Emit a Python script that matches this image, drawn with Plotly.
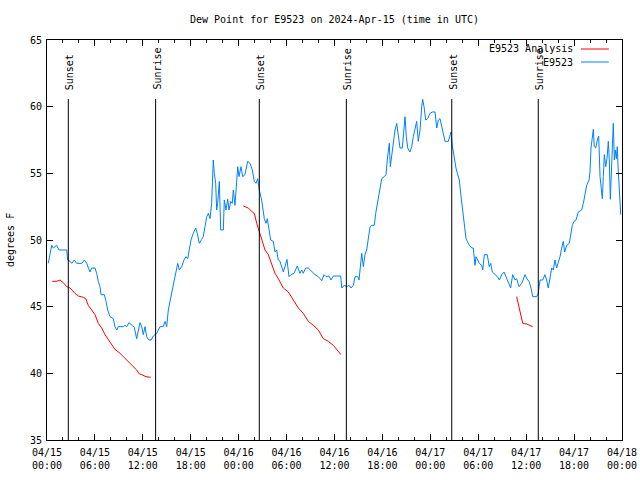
import pandas as pd
import plotly.graph_objects as go

BASE = pd.Timestamp("2024-04-15 00:00")

# Observed dew point (E9523): hours since 2024-04-15 00:00 UTC, degrees F
obs_hours = [0.16, 0.38, 0.59, 0.79, 1.21, 1.50, 2.47, 2.59, 2.88, 3.09, 3.42, 3.72, 4.35, 4.67, 4.97,
             5.38, 5.60, 6.01, 6.22, 6.42, 6.64, 6.76, 7.18, 7.39, 7.60, 7.89, 8.30, 8.51, 8.73, 8.93,
             9.55, 9.77, 9.98, 10.27, 10.61, 10.93, 11.23, 11.36, 11.65, 11.86, 12.06, 12.27, 12.48,
             12.77, 13.02, 13.31, 13.74, 14.15, 14.56, 14.78, 14.99, 15.19, 15.40,
             15.53, 15.69, 15.94, 16.15, 16.37, 16.57, 16.87, 17.15, 17.41, 17.62, 17.82, 18.03, 18.32,
             18.62, 18.82, 19.07, 19.37, 19.57, 19.78, 20.00, 20.20, 20.41, 20.62, 20.82, 20.95, 21.12,
             21.25, 21.37, 21.58, 21.75, 22.08, 22.20, 22.41, 22.63, 22.79, 23.00, 23.20, 23.33, 23.54,
             23.75, 23.88, 24.04, 24.29, 24.51, 24.79, 25.13, 25.42, 25.71, 25.96, 26.17, 26.38, 26.58,
             26.88, 27.21, 27.42, 27.59, 27.80, 28.01, 28.33, 28.55, 28.76, 28.96, 29.18, 29.39, 29.59,
             29.80, 30.05, 30.30, 30.55, 30.93, 31.34, 31.68, 31.89, 32.09, 32.39, 32.72, 33.15, 33.56,
             33.97, 34.40, 34.69, 34.94, 35.31, 35.56, 35.85, 36.78, 36.90, 37.23, 37.53, 37.82, 38.07,
             38.35, 38.57, 38.91, 39.07, 39.28, 39.41, 39.61, 39.82, 40.03, 40.23, 40.45, 40.66, 40.98,
             41.16, 41.36, 41.57, 41.70, 41.91, 42.24, 42.45, 42.61, 42.74, 42.86, 42.99, 43.16, 43.36,
             43.58, 43.79, 43.99, 44.20, 44.49, 44.67, 44.83, 44.99, 45.17, 45.45, 45.67, 45.87, 46.08,
             46.29, 46.49, 46.71, 46.92, 47.04, 47.21, 47.42, 47.67, 47.96, 48.25, 48.59, 48.80, 49.00,
             49.21, 49.42, 49.62, 49.84, 50.25, 50.46, 50.59, 50.75, 51.00, 51.09, 51.21, 51.38, 51.63,
             51.80, 51.93, 52.05, 52.22, 52.34, 52.47, 52.63, 52.88, 53.18, 53.38, 53.59, 53.72, 53.93,
             54.13, 54.43, 54.56, 54.76, 55.13, 55.38, 55.56, 55.76, 56.10, 56.39, 56.64, 56.94, 57.23,
             57.48, 57.76, 58.06, 58.31, 58.60, 58.81, 59.10, 59.44, 59.64, 59.86, 60.07, 60.36, 60.61,
             60.82, 61.32, 61.52, 61.73, 62.07, 62.36, 62.57, 62.77, 62.99, 63.20, 63.40, 63.61, 63.82,
             64.03, 64.24, 64.45, 64.65, 64.82, 65.08, 65.40, 65.58, 65.78, 65.99, 66.24, 66.53, 66.95,
             67.16, 67.37, 67.58, 67.87, 67.99, 68.12, 68.28, 68.41, 68.53, 68.71, 68.91, 69.08, 69.25,
             69.41, 69.54, 69.66, 69.79, 69.96, 70.12, 70.29, 70.41, 70.54, 70.66, 70.84, 70.91, 71.04,
             71.16, 71.29, 71.41, 71.50, 71.63, 71.75, 71.84]
obs_values = [48.25, 49.0, 49.6, 49.4, 49.6, 49.25, 49.25, 48.5, 48.4, 48.25, 48.5, 48.25, 48.25, 48.5, 48.25,
              47.6, 47.9, 47.9, 47.5, 46.9, 46.5, 45.9, 45.9, 45.4, 44.75, 44.25, 44.1, 43.5, 43.25, 43.5,
              43.5, 43.6, 43.5, 43.8, 43.6, 43.45, 42.6, 43.0, 43.8, 43.5, 42.9, 43.5, 42.75,
              42.5, 42.5, 42.8, 43.0, 43.5, 43.5, 43.9, 43.5, 44.75, 45.4,
              46.0, 46.4, 47.0, 47.6, 48.25, 47.75, 48.0, 48.5, 48.75, 48.6, 49.4, 50.0, 50.5,
              50.9, 50.5, 49.75, 50.05, 50.25, 51.0, 51.75, 52.0, 51.6, 52.75, 56.0, 55.0, 54.25,
              52.25, 52.75, 54.4, 50.75, 50.75, 53.0, 52.25, 53.05, 52.25, 52.9, 52.75, 53.75, 52.6,
              54.75, 55.5, 54.75, 55.5, 54.75, 54.9, 55.9, 55.75, 55.25, 54.4, 54.25, 54.6, 53.75,
              53.0, 51.6, 51.25, 51.6, 50.75, 50.0, 49.9, 49.1, 49.25, 48.5, 48.4, 48.0, 47.6,
              48.0, 48.55, 47.25, 47.4, 47.5, 48.05, 47.5, 47.75, 47.5, 47.9, 47.9, 47.6, 47.4,
              47.25, 46.95, 47.4, 47.25, 47.3, 47.0, 47.3, 47.3, 46.4, 46.6, 46.5, 46.6, 46.4,
              46.6, 47.25, 47.25, 47.0, 48.5, 49.0, 48.0, 48.9, 49.25, 50.0, 51.0, 51.1, 51.1,
              52.0, 52.75, 53.25, 54.0, 54.6, 54.75, 54.9, 56.0, 56.75, 57.25, 55.5, 56.25, 57.1,
              58.25, 58.75, 57.75, 56.9, 56.9, 58.5, 59.25, 57.75, 56.9, 56.6, 57.0, 57.75, 58.4,
              58.9, 57.4, 58.25, 60.0, 60.55, 60.0, 59.0, 59.1, 59.5, 59.6, 59.6, 58.4, 59.0,
              59.1, 58.5, 58.0, 57.4, 57.4, 57.75, 58.1, 57.1, 56.1, 55.6, 55.4, 55.0, 54.5,
              53.5, 52.9, 52.1, 51.4, 50.75, 50.1, 49.9, 49.6, 49.4, 49.4, 48.1, 48.75, 48.5,
              48.25, 48.1, 47.75, 48.9, 48.9, 48.0, 48.25, 47.6, 47.4, 47.25, 47.0, 47.4, 47.6,
              47.25, 46.75, 46.4, 47.4, 47.0, 47.1, 46.5, 46.75, 47.0, 47.4, 47.1, 46.9, 46.4,
              45.75, 45.75, 46.0, 47.0, 47.0, 47.4, 47.0, 46.4, 47.25, 47.9, 47.75, 48.5, 47.9,
              48.25, 48.75, 49.4, 49.9, 49.1, 49.6, 49.75, 50.4, 51.1, 51.4, 51.5, 52.1, 52.25,
              52.75, 53.4, 54.1, 54.5, 55.1, 56.9, 57.8, 58.3, 57.0, 56.9, 57.5, 57.8, 54.75,
              54.0, 53.1, 54.75, 56.4, 55.5, 56.1, 57.4, 56.0, 53.05, 55.5, 57.8, 58.75, 56.0,
              56.75, 56.1, 57.0, 55.6, 54.0, 53.0, 51.9]

# Analysis dew point (three separate runs, None = gap)
ana_hours = [0.66, 1.21, 1.63, 2.04, 2.47, 2.88, 3.51, 3.92, 4.55, 4.85, 5.17, 5.60, 6.01, 6.42, 6.85,
             7.26, 7.68, 8.10, 8.51, 9.14, 9.77, 10.18, 10.81, 11.23, 11.56, 11.86, 12.40, 12.99, None,
             24.58, 25.21, 25.71, 25.96, 26.26, 26.58, 26.88, 27.30, 27.71, 28.14, 28.55, 28.96, 29.59,
             30.22, 30.84, 31.47, 32.09, 32.72, 33.35, 33.97, 34.60, 35.22, 35.85, 36.28, 36.81, None,
             58.81, 59.23, 59.57, 60.07, 60.48, 60.82]
ana_values = [46.9, 46.9, 47.0, 46.8, 46.5, 46.4, 46.0, 45.8, 45.7, 45.6, 45.1, 44.75, 44.4, 43.75, 43.4,
              42.9, 42.5, 42.1, 41.8, 41.5, 41.1, 40.9, 40.5, 40.25, 39.95, 39.9, 39.75, 39.7, None,
              52.55, 52.4, 52.1, 52.0, 51.25, 50.6, 50.0, 49.25, 48.9, 48.25, 47.5, 47.1, 46.4,
              46.1, 45.5, 44.9, 44.5, 43.9, 43.6, 43.25, 42.6, 42.4, 42.1, 41.75, 41.4, None,
              45.75, 44.6, 43.75, 43.7, 43.6, 43.5]

sun_events = ["Sunset", "Sunrise", "Sunset", "Sunrise", "Sunset", "Sunrise"]
sun_times = ["2024-04-15 02:40", "2024-04-15 13:36", "2024-04-16 02:35",
             "2024-04-16 13:29", "2024-04-17 02:41", "2024-04-17 13:31"]

tick_times = ["2024-04-15 00:00", "2024-04-15 06:00", "2024-04-15 12:00", "2024-04-15 18:00",
              "2024-04-16 00:00", "2024-04-16 06:00", "2024-04-16 12:00", "2024-04-16 18:00",
              "2024-04-17 00:00", "2024-04-17 06:00", "2024-04-17 12:00", "2024-04-17 18:00",
              "2024-04-18 00:00"]
tick_labels = ["04/15<br>00:00", "04/15<br>06:00", "04/15<br>12:00", "04/15<br>18:00",
               "04/16<br>00:00", "04/16<br>06:00", "04/16<br>12:00", "04/16<br>18:00",
               "04/17<br>00:00", "04/17<br>06:00", "04/17<br>12:00", "04/17<br>18:00",
               "04/18<br>00:00"]
y_ticks = [35, 40, 45, 50, 55, 60, 65]


def to_time(hours):
    return [None if h is None else BASE + pd.Timedelta(hours=h) for h in hours]


FONT = "DejaVu Sans Mono"
RED = "#ff0000"
BLUE = "#0080ff"
W, H = 640, 480

fig = go.Figure()
fig.add_trace(go.Scatter(x=to_time(ana_hours), y=ana_values, mode="lines",
                         line=dict(color=RED, width=1), name="E9523 Analysis",
                         connectgaps=False, showlegend=False))
fig.add_trace(go.Scatter(x=to_time(obs_hours), y=obs_values, mode="lines",
                         line=dict(color=BLUE, width=1), name="E9523", showlegend=False))

# Sunrise / sunset markers
for name, t in zip(sun_events, sun_times):
    fig.add_shape(type="line", xref="x", yref="paper", x0=t, x1=t, y0=0, y1=0.8525,
                  line=dict(color="black", width=1))
    fig.add_annotation(x=t, xref="x", y=0.87, yref="paper", text=name, textangle=-90,
                       showarrow=False, xanchor="center", yanchor="bottom", xshift=1,
                       font=dict(family=FONT, size=10, color="black"))

# gnuplot-style legend (text then line sample)
legend_items = [("E9523 Analysis", RED, 0.9775), ("E9523", BLUE, 0.945)]
for label, color, ly in legend_items:
    fig.add_annotation(x=0.918, xref="paper", y=ly, yref="paper", text=label, showarrow=False,
                       xanchor="right", yanchor="middle",
                       font=dict(family=FONT, size=10, color="black"))
    fig.add_shape(type="line", xref="paper", yref="paper", x0=0.9287, x1=0.977, y0=ly, y1=ly,
                  line=dict(color=color, width=1))

# y axis title
fig.add_annotation(x=0, xref="paper", y=0.5, yref="paper", text="degrees F", textangle=-90,
                   showarrow=False, xshift=-37, xanchor="center", yanchor="middle",
                   font=dict(family=FONT, size=10, color="black"))

fig.update_layout(
    width=W, height=H,
    margin=dict(l=47, r=18, t=40, b=40, autoexpand=False),
    paper_bgcolor="white", plot_bgcolor="white",
    font=dict(family=FONT, size=10, color="black"),
    title=dict(text="Dew Point for E9523 on 2024-Apr-15 (time in UTC)", x=0.5, xref="paper",
               y=1 - 19 / H, yref="container", xanchor="center", yanchor="middle",
               font=dict(family=FONT, size=10, color="black")),
    showlegend=False,
    xaxis=dict(range=["2024-04-15 00:00", "2024-04-18 00:00"], tickvals=tick_times,
               ticktext=tick_labels, ticks="inside", ticklen=6, tickcolor="black",
               showgrid=False, zeroline=False, showline=True, linecolor="black", linewidth=1,
               mirror="allticks", automargin=False, ticklabelstandoff=3,
               minor=dict(dtick=2 * 3600 * 1000, ticks="inside", ticklen=3, tickcolor="black",
                          showgrid=False),
               tickfont=dict(family=FONT, size=10, color="black")),
    yaxis=dict(range=[35, 65], tickvals=y_ticks, ticktext=[str(v) for v in y_ticks],
               ticks="inside", ticklen=6, tickcolor="black", showgrid=False, zeroline=False,
               showline=True, linecolor="black", linewidth=1, mirror="allticks",
               automargin=False, ticklabelstandoff=2,
               tickfont=dict(family=FONT, size=10, color="black")),
)

fig.write_html("out.html", config={"displayModeBar": False},
               post_script="document.body.style.margin='0px';")
